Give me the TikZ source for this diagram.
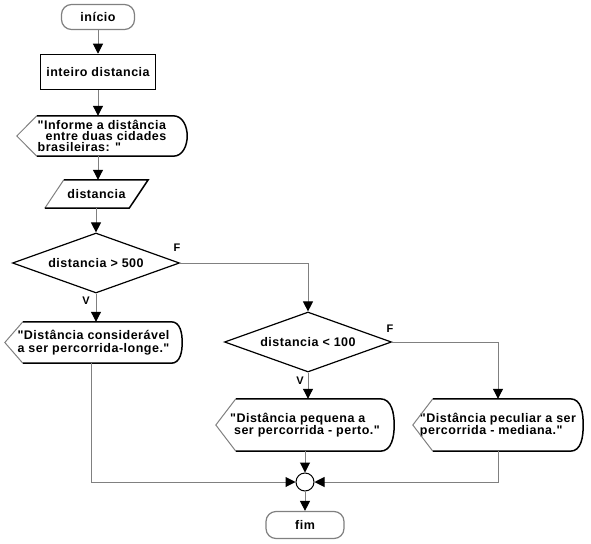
\documentclass[tikz,border=0pt]{standalone}
\usepackage{fontspec}
\newfontfamily\flowfont[LetterSpace=4]{Liberation Sans}
\usetikzlibrary{arrows.meta, shapes.geometric, calc}

\begin{document}
\begin{tikzpicture}[x=1pt, y=1pt,
    txt/.style={font=\flowfont\bfseries\fontsize{12.5}{12.5}\selectfont, inner sep=0pt},
    term/.style={txt, draw=gray, line width=1.2pt, rounded corners=10pt},
    procbox/.style={txt, draw=black, line width=1.5pt},
    dispbox/.style={txt, align=left},
    decision/.style={txt, diamond, shape aspect=2.8, draw=black, line width=1.2pt, minimum width=167pt, minimum height=60pt},
    joint/.style={circle, draw=black, line width=1pt, minimum size=18pt, inner sep=0pt},
    flow/.style={draw=gray, line width=1pt, -{Triangle[black, length=10pt, width=10pt]}},
    shadeline/.style={draw=gray, line width=1pt},
    darkline/.style={draw=black, line width=1.5pt},
    labelstyle/.style={font=\flowfont\bfseries\fontsize{11}{11}\selectfont, inner sep=0pt}
]
    \useasboundingbox (0,0) rectangle (591,-543);

    % Main column
    \node[term, minimum width=73pt, minimum height=25pt] (ini) at (98,-17) {início};
    \node[procbox, minimum width=115pt, minimum height=35pt] (var) at (98,-72) {inteiro distancia};
    \node[dispbox, minimum width=170pt, minimum height=40pt, font=\flowfont\bfseries\fontsize{12.5}{11}\selectfont] (msg) at (102,-136)
        {"Informe a distância\\\ \ entre duas cidades\\brasileiras: "};
    \node[txt, minimum width=103pt, minimum height=28pt] (inp) at (96.5,-194) {distancia};
    \node[decision] (dec1) at (96,-263) {distancia > 500};
    \node[dispbox, minimum width=177pt, minimum height=41pt] (far) at (93.5,-342.5)
        {"Distância considerável\\a ser percorrida-longe."};

    % Right branch
    \node[decision] (dec2) at (308,-342) {distancia < 100};
    \node[dispbox, minimum width=178pt, minimum height=52pt] (near) at (305,-425)
        {"Distância pequena a\\\ ser percorrida - perto."};
    \node[dispbox, minimum width=170pt, minimum height=52pt] (mid) at (498,-425)
        {"Distância peculiar a ser\\percorrida - mediana."};
    \node[joint] (join) at (305,-482) {};
    \node[term, minimum width=78pt, minimum height=27pt] (fim) at (305,-525) {fim};

    % Branch labels
    \node[labelstyle] (f1) at ([xshift=-3pt, yshift=15pt]dec1.east) {F};
    \node[labelstyle] (v1) at ([xshift=-10pt, yshift=-7pt]dec1.south) {V};
    \node[labelstyle] (f2) at ([xshift=-2pt, yshift=13pt]dec2.east) {F};
    \node[labelstyle] (v2) at ([xshift=-8pt, yshift=-8pt]dec2.south) {V};

    % Display outlines
    \draw[shadeline] ([xshift=20pt]msg.south west) -- (msg.west) -- ([xshift=20pt]msg.north west);
    \draw[darkline] ([xshift=20pt]msg.north west) -- ([xshift=-14pt]msg.north east) to[out=0, in=90] (msg.east)
        to[out=-90, in=0] ([xshift=-14pt]msg.south east) -- ([xshift=20pt]msg.south west);
    \draw[shadeline] ([xshift=18pt]far.south west) -- (far.west) -- ([xshift=18pt]far.north west);
    \draw[darkline] ([xshift=18pt]far.north west) -- ([xshift=-11pt]far.north east) to[out=0, in=90] (far.east)
        to[out=-90, in=0] ([xshift=-11pt]far.south east) -- ([xshift=18pt]far.south west);
    \draw[shadeline] ([xshift=20pt]near.south west) -- (near.west) -- ([xshift=20pt]near.north west);
    \draw[darkline] ([xshift=20pt]near.north west) -- ([xshift=-14pt]near.north east) to[out=0, in=90] (near.east)
        to[out=-90, in=0] ([xshift=-14pt]near.south east) -- ([xshift=20pt]near.south west);
    \draw[shadeline] ([xshift=20pt]mid.south west) -- (mid.west) -- ([xshift=20pt]mid.north west);
    \draw[darkline] ([xshift=20pt]mid.north west) -- ([xshift=-13pt]mid.north east) to[out=0, in=90] (mid.east)
        to[out=-90, in=0] ([xshift=-13pt]mid.south east) -- ([xshift=20pt]mid.south west);

    % Input outline
    \draw[shadeline] (inp.south west) -- ([xshift=19pt]inp.north west);
    \draw[darkline] ([xshift=19pt]inp.north west) -- (inp.north east) -- ([xshift=-19pt]inp.south east) -- (inp.south west);

    % Connectors
    \draw[flow] (ini.south) -- (var.north);
    \draw[flow] (var.south) -- (var.south |- msg.north);
    \draw[flow] (var.south |- msg.south) -- (var.south |- inp.north);
    \draw[flow] (inp.south -| dec1.north) -- (dec1.north);
    \draw[flow] (dec1.south) -- (dec1.south |- far.north);
    \draw[flow] (dec1.east) -| (dec2.north);
    \draw[flow] (dec2.south) -- (dec2.south |- near.north);
    \draw[flow] (dec2.east) -| (mid.north);
    \draw[flow] ([xshift=-2pt]far.south) |- (join.west);
    \draw[flow] (near.south) -- (join.north);
    \draw[flow] (mid.south) |- (join.east);
    \draw[flow] (join.south) -- (fim.north);
\end{tikzpicture}
\end{document}
